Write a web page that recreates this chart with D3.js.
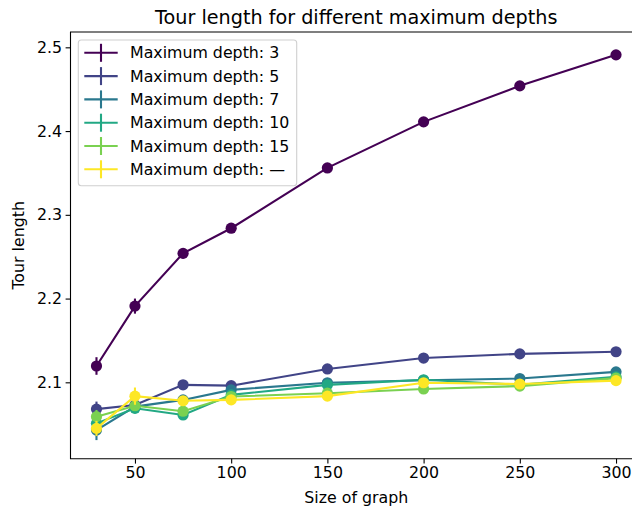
<!DOCTYPE html>
<html>
<head>
<meta charset="utf-8">
<script src="https://cdn.jsdelivr.net/npm/d3@7"></script>
<style>
  body { margin: 0; background: #fff; }
  svg { display: block; overflow: hidden; }
  text { font-family: "DejaVu Sans", sans-serif; fill: #000; }
</style>
</head>
<body>
<div id="viz"></div>
<script>
// chart values
const sizes = [30, 50, 75, 100, 150, 200, 250, 300]
const depthLabels = ["3", "5", "7", "10", "15", "\u2014"]
const colors = ["#440154", "#414487", "#2a788e", "#22a884", "#7ad151", "#fde725"]

const depth3 = [2.1195, 2.191, 2.254, 2.284, 2.356, 2.411, 2.454, 2.491]
const depth5 = [2.068, 2.073, 2.097, 2.096, 2.116, 2.129, 2.134, 2.1365]
const depth7 = [2.043, 2.071, 2.079, 2.091, 2.0995, 2.1025, 2.1045, 2.1125]
const depth10 = [2.051, 2.069, 2.061, 2.085, 2.097, 2.103, 2.097, 2.1065]
const depth15 = [2.059, 2.072, 2.0655, 2.083, 2.087, 2.092, 2.0955, 2.105]
const depthNone = [2.045, 2.0835, 2.078, 2.079, 2.0835, 2.0995, 2.098, 2.102]

const err3 = [0.0105, 0.009, 0.006, 0.005, 0.005, 0.004, 0.004, 0.004]
const err5 = [0.009, 0.006, 0.004, 0.004, 0.003, 0.003, 0.003, 0.003]
const err7 = [0.012, 0.007, 0.004, 0.004, 0.003, 0.003, 0.003, 0.003]
const err10 = [0.008, 0.006, 0.005, 0.004, 0.003, 0.003, 0.003, 0.003]
const err15 = [0.008, 0.006, 0.004, 0.004, 0.003, 0.003, 0.003, 0.003]
const errNone = [0.009, 0.0103, 0.005, 0.004, 0.003, 0.003, 0.003, 0.004]

const xTicks = [50, 100, 150, 200, 250, 300]
const yTicks = [2.1, 2.2, 2.3, 2.4, 2.5]

document.addEventListener("DOMContentLoaded", () => {

    const width = 632
    const height = 511

    // axes box (right side runs past the picture edge, like the original)
    const left = 70.5, right = 642, top = 32, bottom = 458.7
    const fs = 15.8

    const series = [depth3, depth5, depth7, depth10, depth15, depthNone]
    const errors = [err3, err5, err7, err10, err15, errNone]

    const svg = d3.select("#viz").append("svg")
        .attr("width", width)
        .attr("height", height)

    const x = d3.scaleLinear().domain([16.5, 313.5]).range([left, right])
    const y = d3.scaleLinear().domain([2.0088, 2.5183]).range([bottom, top])

    // axes
    svg.append("g")
        .attr("transform", `translate(0,${bottom})`)
        .call(d3.axisBottom(x).tickValues(xTicks).tickSize(4.9).tickPadding(3.5).tickFormat(d3.format("d")))
        .call(g => g.select(".domain").remove())
        .call(g => g.selectAll("line").attr("stroke", "#000").attr("stroke-width", 1.1))
        .call(g => g.selectAll("text").attr("font-size", fs).style("font-family", "DejaVu Sans"))

    svg.append("g")
        .attr("transform", `translate(${left},0)`)
        .call(d3.axisLeft(y).tickValues(yTicks).tickSize(4.9).tickPadding(3.5).tickFormat(d3.format(".1f")))
        .call(g => g.select(".domain").remove())
        .call(g => g.selectAll("line").attr("stroke", "#000").attr("stroke-width", 1.1))
        .call(g => g.selectAll("text").attr("font-size", fs).style("font-family", "DejaVu Sans"))

    // lines, error bars and markers
    const line = d3.line().x((d, i) => x(sizes[i])).y(d => y(d))

    series.forEach((vals, s) => {
        const g = svg.append("g")
        g.append("path")
            .datum(vals)
            .attr("d", line)
            .attr("fill", "none")
            .attr("stroke", colors[s])
            .attr("stroke-width", 2.1)

        g.selectAll(".err")
            .data(vals)
            .join("line")
            .attr("x1", (d, i) => x(sizes[i]))
            .attr("x2", (d, i) => x(sizes[i]))
            .attr("y1", (d, i) => y(d - errors[s][i]))
            .attr("y2", (d, i) => y(d + errors[s][i]))
            .attr("stroke", colors[s])
            .attr("stroke-width", 2.1)

        g.selectAll("circle")
            .data(vals)
            .join("circle")
            .attr("cx", (d, i) => x(sizes[i]))
            .attr("cy", d => y(d))
            .attr("r", 5.6)
            .attr("fill", colors[s])
    })

    // spines
    svg.append("path")
        .attr("d", `M${left},${top}V${bottom}H${right}V${top}Z`)
        .attr("fill", "none")
        .attr("stroke", "#000")
        .attr("stroke-width", 1.1)

    // legend
    const legend = svg.append("g")
    legend.append("rect")
        .attr("x", 78.3)
        .attr("y", 40)
        .attr("width", 218.4)
        .attr("height", 145.7)
        .attr("rx", 3)
        .attr("fill", "#fff")
        .attr("fill-opacity", 0.8)
        .attr("stroke", "#d0d0d0")
        .attr("stroke-width", 1.1)

    depthLabels.forEach((lab, s) => {
        const cy = 52.8 + s * 23.3
        legend.append("line")
            .attr("x1", 84.3).attr("x2", 117.7)
            .attr("y1", cy).attr("y2", cy)
            .attr("stroke", colors[s]).attr("stroke-width", 2.1)
        legend.append("line")
            .attr("x1", 101).attr("x2", 101)
            .attr("y1", cy - 9).attr("y2", cy + 9)
            .attr("stroke", colors[s]).attr("stroke-width", 2.1)
        legend.append("text")
            .attr("x", 130)
            .attr("y", cy + 5.6)
            .attr("font-size", fs)
            .text("Maximum depth: " + lab)
    })

    // titles
    svg.append("text")
        .attr("x", (left + right) / 2)
        .attr("y", 23.5)
        .attr("text-anchor", "middle")
        .attr("font-size", 19.2)
        .text("Tour length for different maximum depths")

    svg.append("text")
        .attr("x", (left + right) / 2)
        .attr("y", 503)
        .attr("text-anchor", "middle")
        .attr("font-size", fs)
        .text("Size of graph")

    svg.append("text")
        .attr("transform", `translate(24,${(top + bottom) / 2}) rotate(-90)`)
        .attr("text-anchor", "middle")
        .attr("font-size", fs)
        .text("Tour length")
})
</script>
</body>
</html>
